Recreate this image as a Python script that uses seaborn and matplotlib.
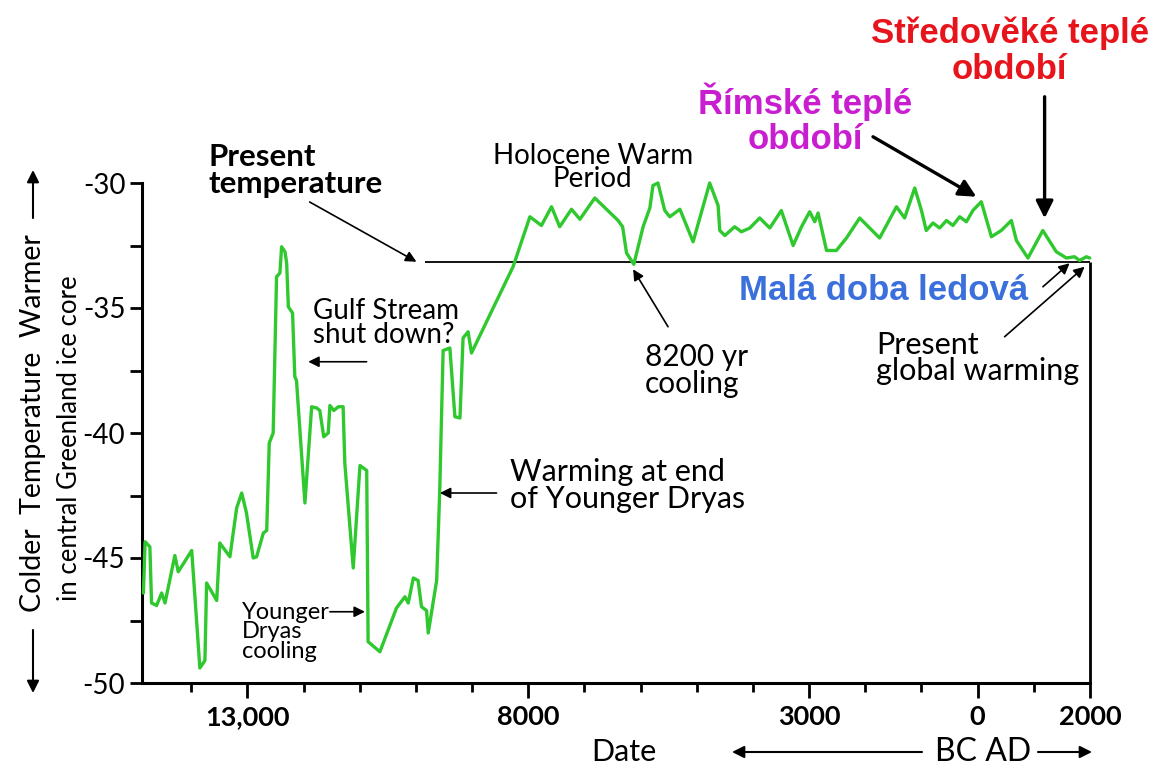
import matplotlib
matplotlib.use("Agg")
import matplotlib.pyplot as plt
import matplotlib.ticker as mticker
import pandas as pd
import seaborn as sns

# Greenland ice core temperature (negative year = BC)
years = [-14850, -14820, -14735, -14705, -14615, -14525, -14465, -14290, -14230, -13990,
         -13845, -13755, -13725, -13545, -13490, -13310, -13190, -13100, -13015, -12895,
         -12835, -12715, -12655, -12610, -12540, -12480, -12420, -12390, -12330, -12300,
         -12270, -12195, -12155, -12125, -11975, -11855, -11765, -11710, -11640, -11560,
         -11530, -11460, -11380, -11295, -11265, -11115, -10995, -10875, -10850, -10640,
         -10345, -10195, -10135, -10045, -9960, -9900, -9810, -9780, -9630, -9575,
         -9515, -9395, -9305, -9215, -9160, -9070, -9010, -8270, -7970, -7765,
         -7585, -7440, -7230, -7080, -6815, -6400, -6320, -6250, -6120, -5955,
         -5835, -5780, -5690, -5570, -5480, -5300, -5065, -4770, -4620, -4590,
         -4500, -4325, -4205, -4055, -3880, -3700, -3495, -3285, -3135, -2990,
         -2900, -2840, -2690, -2515, -2335, -2100, -1745, -1445, -1300, -1120,
         -1000, -915, -795, -675, -555, -440, -320, -200, -85, 65,
         245, 420, 600, 690, 895, 1160, 1400, 1580, 1725, 1815,
         1935, 1995]
temps = [-46.4, -44.35, -44.55, -46.8, -46.9, -46.4, -46.8, -44.9, -45.55, -44.7,
         -49.4, -49.1, -46.0, -46.7, -44.4, -44.95, -43.0, -42.4, -43.2, -45.0,
         -44.95, -44.0, -43.9, -40.4, -40.0, -33.75, -33.6, -32.55, -32.75, -33.2,
         -34.95, -35.2, -37.75, -37.9, -42.8, -38.95, -39.0, -39.1, -40.15, -40.0,
         -38.9, -39.1, -38.95, -38.95, -41.2, -45.4, -41.3, -41.5, -48.35, -48.75,
         -47.0, -46.55, -46.8, -45.8, -45.9, -46.95, -47.1, -48.0, -45.9, -42.3,
         -36.7, -36.6, -39.35, -39.4, -36.2, -35.95, -36.8, -33.35, -31.35, -31.7,
         -30.95, -31.75, -31.05, -31.45, -30.6, -31.5, -31.75, -32.8, -33.25, -31.75,
         -31.0, -30.1, -30.0, -31.1, -31.35, -31.05, -32.35, -30.0, -30.9, -31.9,
         -32.1, -31.75, -31.95, -31.8, -31.4, -31.8, -31.1, -32.5, -31.75, -31.15,
         -31.55, -31.2, -32.7, -32.7, -32.2, -31.4, -32.2, -30.95, -31.4, -30.2,
         -31.1, -31.9, -31.6, -31.8, -31.5, -31.7, -31.35, -31.55, -31.1, -30.75,
         -32.15, -31.9, -31.5, -32.3, -33.0, -31.9, -32.75, -33.0, -32.95, -33.1,
         -32.95, -33.0]

present_temp = -33.15
present_line_start = -9840
x_range = (-14875, 2000)
y_range = (-50, -30)
x_major = [-13000, -8000, -3000, 0, 2000]
x_major_labels = ["13,000", "8000", "3000", "0", "2000"]
x_minor = [-14000, -12000, -11000, -10000, -9000, -7000, -6000, -5000, -4000,
           -2000, -1000, 1000]
y_major = [-50, -45, -40, -35, -30]
y_major_labels = ["-50", "-45", "-40", "-35", "-30"]

GREEN = "#2fc82f"
W, H = 1158, 769


def fx(px):
    return px / W


def fy(py):
    return 1 - py / H


sns.set_theme(style="ticks")
plt.rcParams["font.family"] = ["Lato", "DejaVu Sans"]
plt.rcParams["axes.unicode_minus"] = False
for key in ["text.color", "axes.labelcolor", "xtick.color", "ytick.color"]:
    plt.rcParams[key] = "black"

fig = plt.figure(figsize=(W / 100, H / 100), dpi=100)
ax = fig.add_axes([fx(142), fy(683), (1090 - 142) / W, (683 - 183) / H])

df = pd.DataFrame({"year": years, "temp": temps})
sns.lineplot(data=df, x="year", y="temp", ax=ax, color=GREEN, lw=2.4,
             sort=False, estimator=None, clip_on=False, zorder=3)

# present temperature reference line and the right-hand edge
ax.hlines(present_temp, present_line_start, x_range[1], color="black", lw=1.3, zorder=2)
ax.vlines(x_range[1], y_range[0], present_temp, color="black", lw=2, zorder=2,
          clip_on=False)

ax.set_xlim(*x_range)
ax.set_ylim(*y_range)
ax.set_xlabel("")
ax.set_ylabel("")

for side in ["top", "right"]:
    ax.spines[side].set_visible(False)
for side in ["left", "bottom"]:
    ax.spines[side].set_linewidth(2.2)
    ax.spines[side].set_color("black")

ax.set_xticks(x_major)
ax.set_xticklabels(x_major_labels, fontweight="bold", fontsize=19.5)
ax.xaxis.set_minor_locator(mticker.FixedLocator(x_minor))
ax.set_yticks(y_major)
ax.set_yticklabels(y_major_labels, fontsize=20)
ax.yaxis.set_minor_locator(mticker.MultipleLocator(2.5))
ax.tick_params(axis="x", which="major", length=11, width=2, pad=5)
ax.tick_params(axis="x", which="minor", length=6.5, width=2)
ax.tick_params(axis="y", which="both", length=9, width=2, pad=3)

# annotations
thin = dict(arrowstyle="-|>", color="black", lw=1.2, mutation_scale=16,
            shrinkA=0, shrinkB=0)

ax.text(-13700, -29.5, "Present\ntemperature", fontsize=22.5, fontweight="bold",
        va="center", ha="left", linespacing=0.95, clip_on=False)
ax.annotate("", xy=(-9990, -33.15), xytext=(-11890, -30.76), arrowprops=thin,
            annotation_clip=False)

ax.text(-11833, -35.6, "Gulf Stream\nshut down?", fontsize=20, va="center",
        ha="left", linespacing=0.95)
ax.annotate("", xy=(-11916, -37.15), xytext=(-10877, -37.15), arrowprops=thin)

ax.text(-13096, -47.95, "Younger\nDryas\ncooling", fontsize=17, va="center",
        ha="left", linespacing=0.9)
ax.annotate("", xy=(-10907, -47.15), xytext=(-11530, -47.15), arrowprops=thin)

ax.text(-8327, -42.1, "Warming at end\nof Younger Dryas", fontsize=22,
        va="center", ha="left", linespacing=0.95)
ax.annotate("", xy=(-9573, -42.4), xytext=(-8564, -42.4), arrowprops=thin)

ax.text(-5925, -37.5, "8200 yr\ncooling", fontsize=21.5, va="center", ha="left",
        linespacing=0.95)
ax.annotate("", xy=(-6133, -33.45), xytext=(-5511, -35.75), arrowprops=thin)

ax.text(-6851, -29.38, "Holocene Warm\nPeriod", fontsize=20, va="center",
        ha="center", linespacing=0.9, clip_on=False)

ax.text(-1802, -37.0, "Present\nglobal warming", fontsize=22, va="center",
        ha="left", linespacing=0.95)
ax.annotate("", xy=(1904, -33.35), xytext=(480, -36.15), arrowprops=thin)

# Czech labels
cz = ["Liberation Sans", "DejaVu Sans"]
thick = dict(arrowstyle="-|>", color="black", lw=2.4, mutation_scale=26,
             shrinkA=0, shrinkB=0)
ax.text(-3070, -27.45, "Římské teplé\nobdobí", family=cz, fontsize=25,
        fontweight="bold", color="#c81ecf", ha="center", va="center",
        linespacing=1.1, clip_on=False)
ax.annotate("", xy=(-23, -30.55), xytext=(-1863, -28.15), arrowprops=thick,
            annotation_clip=False)

ax.text(569, -24.72, "Středověké teplé\nobdobí", family=cz, fontsize=25,
        fontweight="bold", color="#e8141c", ha="center", va="center",
        linespacing=1.1, clip_on=False)
ax.annotate("", xy=(1192, -31.41), xytext=(1192, -26.55), arrowprops=thick,
            annotation_clip=False)

ax.text(-1673, -34.28, "Malá doba ledová", family=cz, fontsize=25,
        fontweight="bold", color="#3a6fdc", ha="center", va="center")
ax.annotate("", xy=(1637, -33.21), xytext=(1162, -34.15), arrowprops=thin)

# y-axis titles with arrows
fig.text(fx(33), fy(423), "Colder  Temperature  Warmer", rotation=90,
         fontsize=20.5, ha="center", va="center")
fig.text(fx(70), fy(438), "in central Greenland ice core", rotation=90,
         fontsize=18.5, ha="center", va="center")
fig_arrow = dict(arrowstyle="-|>", color="black", lw=1.5, mutation_scale=18,
                 shrinkA=0, shrinkB=0)
fig.add_artist(plt.Annotation("", xy=(fx(33), fy(170)), xytext=(fx(33), fy(218)),
                              xycoords="figure fraction", arrowprops=fig_arrow))
fig.add_artist(plt.Annotation("", xy=(fx(33), fy(693)), xytext=(fx(33), fy(630)),
                              xycoords="figure fraction", arrowprops=fig_arrow))

# x-axis titles with arrows
fig.text(fx(624), fy(752), "Date", fontsize=22, ha="center", va="center")
fig.text(fx(983), fy(752), "BC AD", fontsize=23, ha="center", va="center")
fig.add_artist(plt.Annotation("", xy=(fx(732), fy(752)), xytext=(fx(922), fy(752)),
                              xycoords="figure fraction", arrowprops=fig_arrow))
fig.add_artist(plt.Annotation("", xy=(fx(1092), fy(752)), xytext=(fx(1038), fy(752)),
                              xycoords="figure fraction", arrowprops=fig_arrow))

fig.savefig("out.png", dpi=100)
